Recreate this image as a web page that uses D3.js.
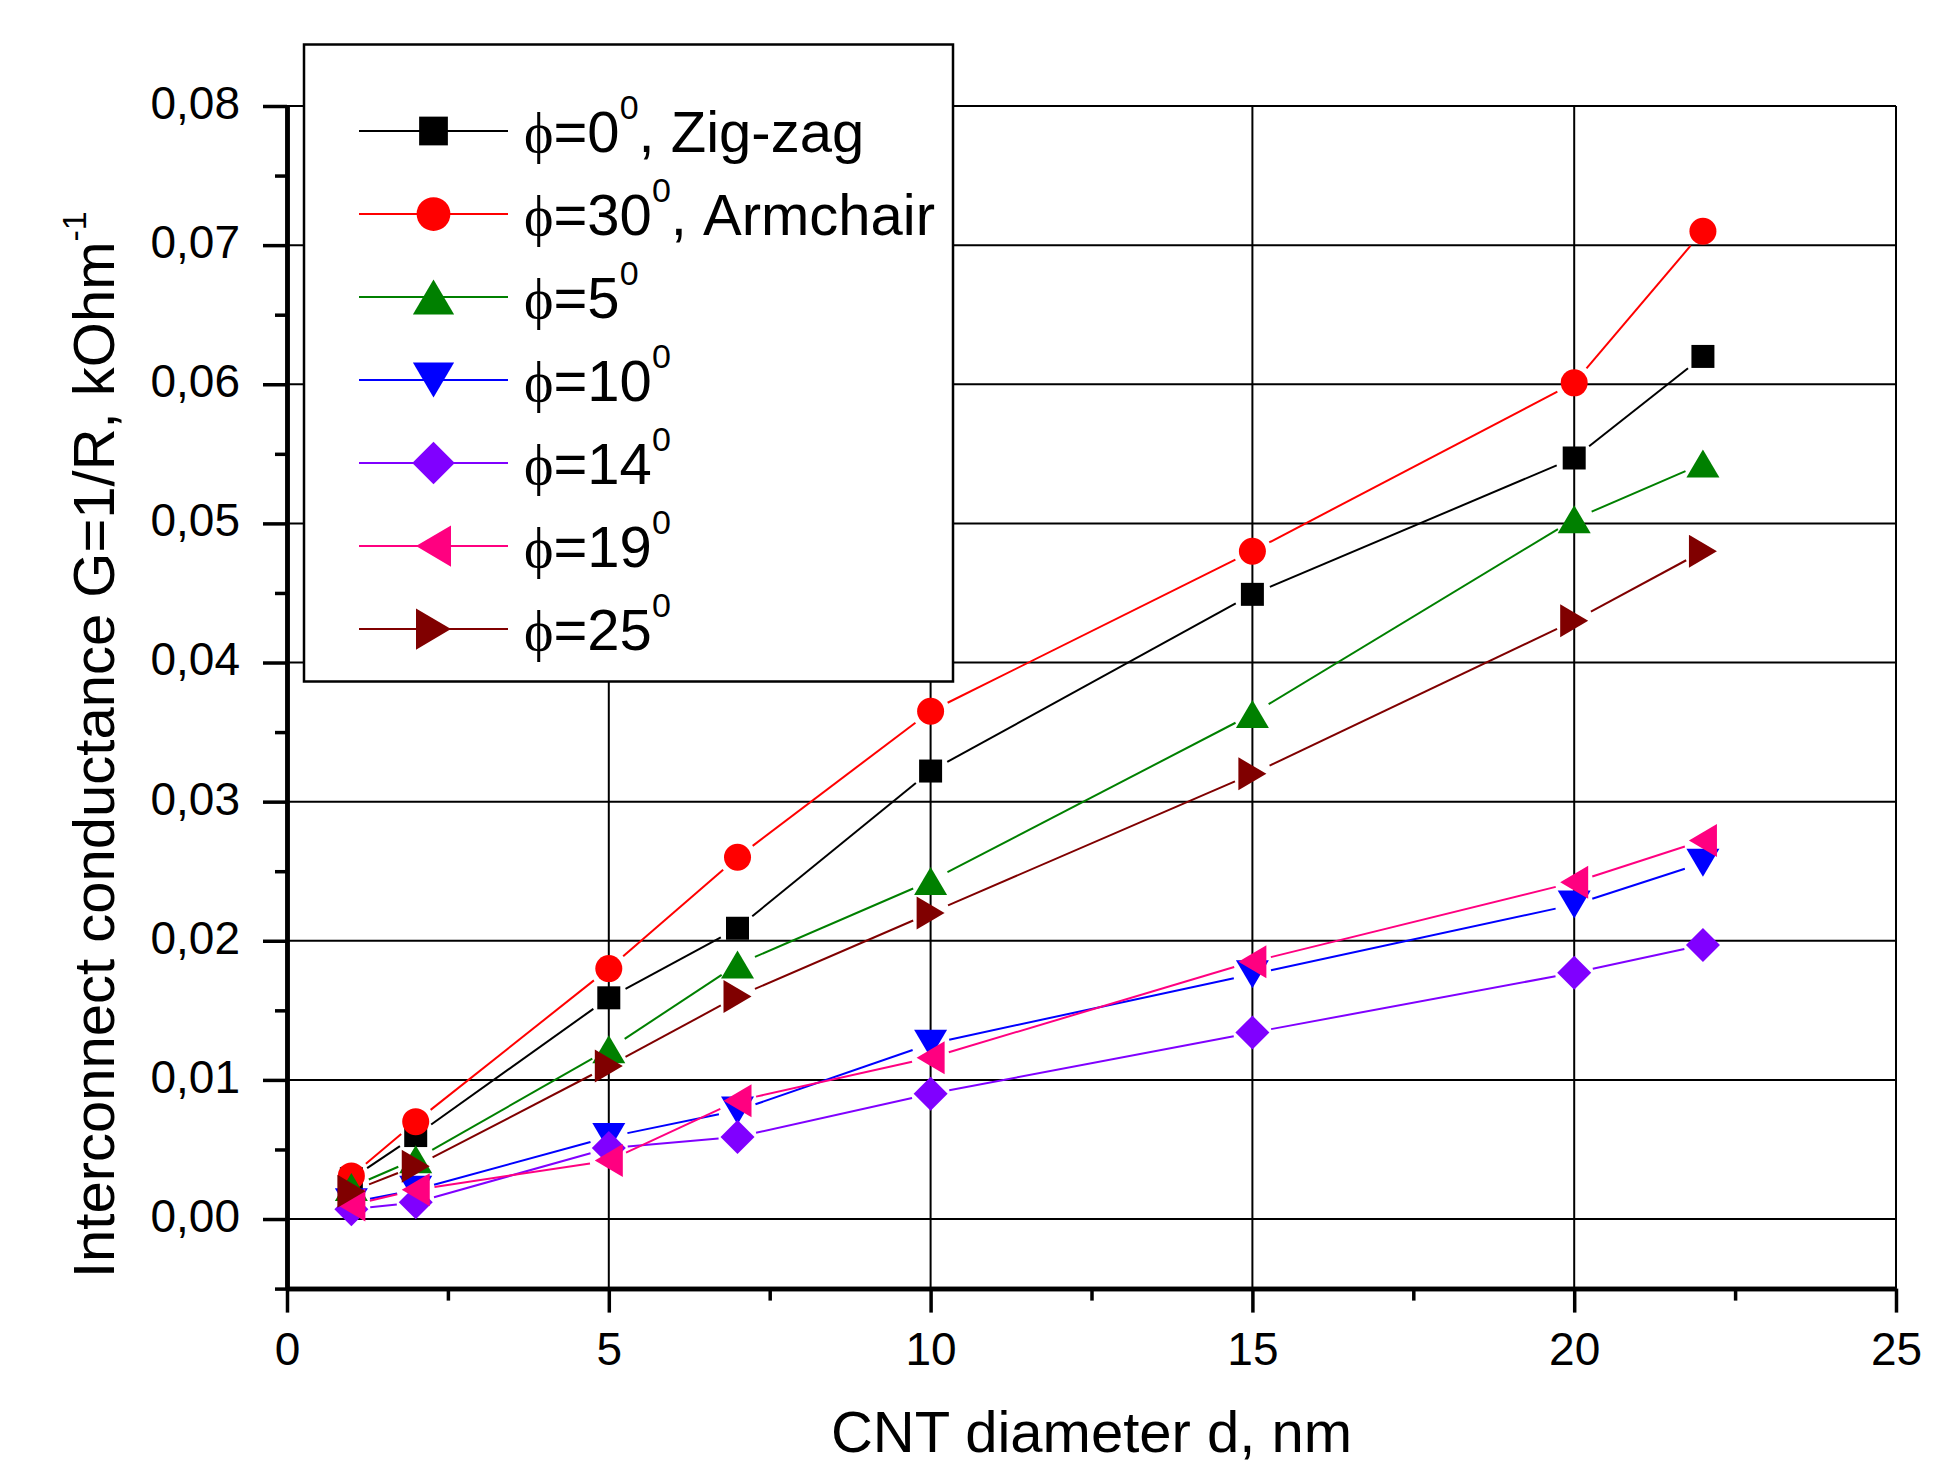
<!DOCTYPE html>
<html>
<head>
<meta charset="utf-8">
<script src="https://cdn.jsdelivr.net/npm/d3@7"></script>
<style>
  html, body { margin: 0; padding: 0; background: #ffffff; }
  svg { display: block; }
</style>
</head>
<body>
<svg id="chart" width="1960" height="1464"></svg>
<script>
// CNT diameter, nm
const diameters = [1, 2, 5, 7, 10, 15, 20, 22];

// Interconnect conductance G = 1/R, kOhm^-1, per chiral angle
const phi0  = [0.0029, 0.0060, 0.0159, 0.0209, 0.0322, 0.0449, 0.0547, 0.0620];
const phi30 = [0.0031, 0.0070, 0.0180, 0.0260, 0.0365, 0.0480, 0.0601, 0.0710];
const phi5  = [0.0023, 0.0043, 0.0122, 0.0183, 0.0243, 0.0363, 0.0503, 0.0543];
const phi10 = [0.0012, 0.0021, 0.0059, 0.0078, 0.0126, 0.0176, 0.0226, 0.0256];
const phi14 = [0.0007, 0.0012, 0.0051, 0.0059, 0.0090, 0.0134, 0.0177, 0.0197];
const phi19 = [0.0010, 0.0021, 0.0042, 0.0085, 0.0116, 0.0185, 0.0242, 0.0272];
const phi25 = [0.0020, 0.0038, 0.0110, 0.0160, 0.0220, 0.0320, 0.0430, 0.0480];

// Legend labels
const angleLabels = ["0", "30", "5", "10", "14", "19", "25"];
const angleSuffix = [", Zig-zag", ", Armchair", "", "", "", "", ""];

// Tick values
const xMajorTicks = [0, 5, 10, 15, 20, 25];
const xMinorTicks = [2.5, 7.5, 12.5, 17.5, 22.5];
const yMajorTicks = [0, 0.01, 0.02, 0.03, 0.04, 0.05, 0.06, 0.07, 0.08];
const yMinorTicks = [-0.005, 0.005, 0.015, 0.025, 0.035, 0.045, 0.055, 0.065, 0.075];

const series = [
  { values: phi0,  color: "#000000", shape: "square" },
  { values: phi30, color: "#ff0000", shape: "circle" },
  { values: phi5,  color: "#008000", shape: "up" },
  { values: phi10, color: "#0000ff", shape: "down" },
  { values: phi14, color: "#8000ff", shape: "diamond" },
  { values: phi19, color: "#ff0080", shape: "left" },
  { values: phi25, color: "#800000", shape: "right" }
];

const svg = d3.select("#chart");

const x = d3.scaleLinear().domain([0, 25]).range([287, 1896]);
const y = d3.scaleLinear().domain([-0.005, 0.08]).range([1288.6, 106]);

// Marker outlines, scale k enlarges them for the legend
function markerPath(shape, k) {
  const p = d3.path();
  if (shape === "square") {
    const h = 11.5 * k;
    p.rect(-h, -h, 2 * h, 2 * h);
  } else if (shape === "circle") {
    p.arc(0, 0, 13.5 * k, 0, 2 * Math.PI);
  } else if (shape === "diamond") {
    const h = 17 * k;
    p.moveTo(0, -h); p.lineTo(h, 0); p.lineTo(0, h); p.lineTo(-h, 0);
  } else {
    const w = 16.5 * k, hh = 14 * k; // half base, half height
    if (shape === "up")    { p.moveTo(0, -hh); p.lineTo(w, hh); p.lineTo(-w, hh); }
    if (shape === "down")  { p.moveTo(0, hh); p.lineTo(w, -hh); p.lineTo(-w, -hh); }
    if (shape === "left")  { p.moveTo(-hh, 0); p.lineTo(hh, -w); p.lineTo(hh, w); }
    if (shape === "right") { p.moveTo(hh, 0); p.lineTo(-hh, -w); p.lineTo(-hh, w); }
  }
  p.closePath();
  return p.toString();
}

// ---- grid ----
const grid = svg.append("g").attr("stroke", "#000").attr("stroke-width", 2);
grid.selectAll("line.h").data(yMajorTicks).join("line")
  .attr("x1", x(0)).attr("x2", x(25))
  .attr("y1", d => y(d)).attr("y2", d => y(d));
grid.selectAll("line.v").data(xMajorTicks.slice(1)).join("line")
  .attr("x1", d => x(d)).attr("x2", d => x(d))
  .attr("y1", y(-0.005)).attr("y2", y(0.08));

// ---- series: gapped connecting segments, then symbols ----
const gap = 19;
const lineGen = d3.line();
series.forEach(s => {
  const g = svg.append("g");
  const pts = diameters.map((d, i) => [x(d), y(s.values[i])]);
  for (let i = 0; i < pts.length - 1; i++) {
    const [x1, y1] = pts[i], [x2, y2] = pts[i + 1];
    const len = Math.hypot(x2 - x1, y2 - y1);
    if (len <= 2 * gap) continue;
    const ux = (x2 - x1) / len, uy = (y2 - y1) / len;
    g.append("path")
      .attr("d", lineGen([[x1 + ux * gap, y1 + uy * gap], [x2 - ux * gap, y2 - uy * gap]]))
      .attr("fill", "none").attr("stroke", s.color).attr("stroke-width", 2);
  }
  g.selectAll("path.m").data(pts).join("path")
    .attr("class", "m")
    .attr("transform", p => `translate(${p[0]},${p[1]})`)
    .attr("d", markerPath(s.shape, 1))
    .attr("fill", s.color);
});

// ---- axes ----
const yFmt = v => d3.format(".2f")(v).replace(".", ",");
const tickFont = 46;

const yAxis = svg.append("g").attr("transform", `translate(${x(0)},0)`)
  .call(d3.axisLeft(y).tickValues(yMajorTicks).tickSize(24).tickSizeOuter(0)
    .tickPadding(23).tickFormat(yFmt));
const yMinor = svg.append("g").attr("transform", `translate(${x(0)},0)`)
  .call(d3.axisLeft(y).tickValues(yMinorTicks).tickSize(12).tickSizeOuter(0).tickFormat(""));

const xAxis = svg.append("g").attr("transform", `translate(0,${y(-0.005)})`)
  .call(d3.axisBottom(x).tickValues(xMajorTicks).tickSize(24).tickSizeOuter(0)
    .tickPadding(20).tickFormat(d3.format("d")));
const xMinor = svg.append("g").attr("transform", `translate(0,${y(-0.005)})`)
  .call(d3.axisBottom(x).tickValues(xMinorTicks).tickSize(12).tickSizeOuter(0).tickFormat(""));

[yAxis, yMinor, xAxis, xMinor].forEach(a => {
  a.select(".domain").attr("stroke", "#000").attr("stroke-width", 4.5);
  a.selectAll(".tick line").attr("stroke", "#000").attr("stroke-width", 3.5);
  a.selectAll(".tick text")
    .attr("fill", "#000")
    .style("font-family", "'Liberation Sans', Arial, sans-serif")
    .style("font-size", tickFont + "px");
});
yAxis.selectAll(".tick text").attr("dy", "0.27em");

// ---- axis titles ----
svg.append("text")
  .attr("x", (x(0) + x(25)) / 2).attr("y", 1452)
  .attr("text-anchor", "middle")
  .style("font-family", "'Liberation Sans', Arial, sans-serif")
  .style("font-size", "58px")
  .text("CNT diameter d, nm");

const yTitle = svg.append("text")
  .attr("transform", "translate(114,1278) rotate(-90)")
  .attr("text-anchor", "start")
  .style("font-family", "'Liberation Sans', Arial, sans-serif")
  .style("font-size", "58px");
yTitle.append("tspan").text("Interconnect conductance G=1/R, kOhm");
yTitle.append("tspan").attr("dy", -28).style("font-size", "34px").text("-1");

// ---- legend ----
const legend = svg.append("g");
legend.append("rect")
  .attr("x", 304).attr("y", 44.5).attr("width", 649).attr("height", 637)
  .attr("fill", "#fff").attr("stroke", "#000").attr("stroke-width", 2.5);

series.forEach((s, i) => {
  const cy = 131 + i * 83;
  const row = legend.append("g");
  row.append("line")
    .attr("x1", 359).attr("x2", 508).attr("y1", cy).attr("y2", cy)
    .attr("stroke", s.color).attr("stroke-width", 2);
  row.append("path")
    .attr("transform", `translate(433.5,${cy})`)
    .attr("d", markerPath(s.shape, 1.25))
    .attr("fill", s.color);
  const t = row.append("text")
    .attr("x", 524).attr("y", cy + 21)
    .style("font-family", "'Liberation Sans', Arial, sans-serif")
    .style("font-size", "58px");
  t.append("tspan").style("font-family", "'Liberation Serif', 'DejaVu Serif', serif")
    .style("font-size", "56px").text("\u03D5");
  t.append("tspan").text("=" + angleLabels[i]);
  t.append("tspan").attr("dy", -33).style("font-size", "34px").text("0");
  t.append("tspan").attr("dy", 33).text(angleSuffix[i]);
});
</script>
</body>
</html>
